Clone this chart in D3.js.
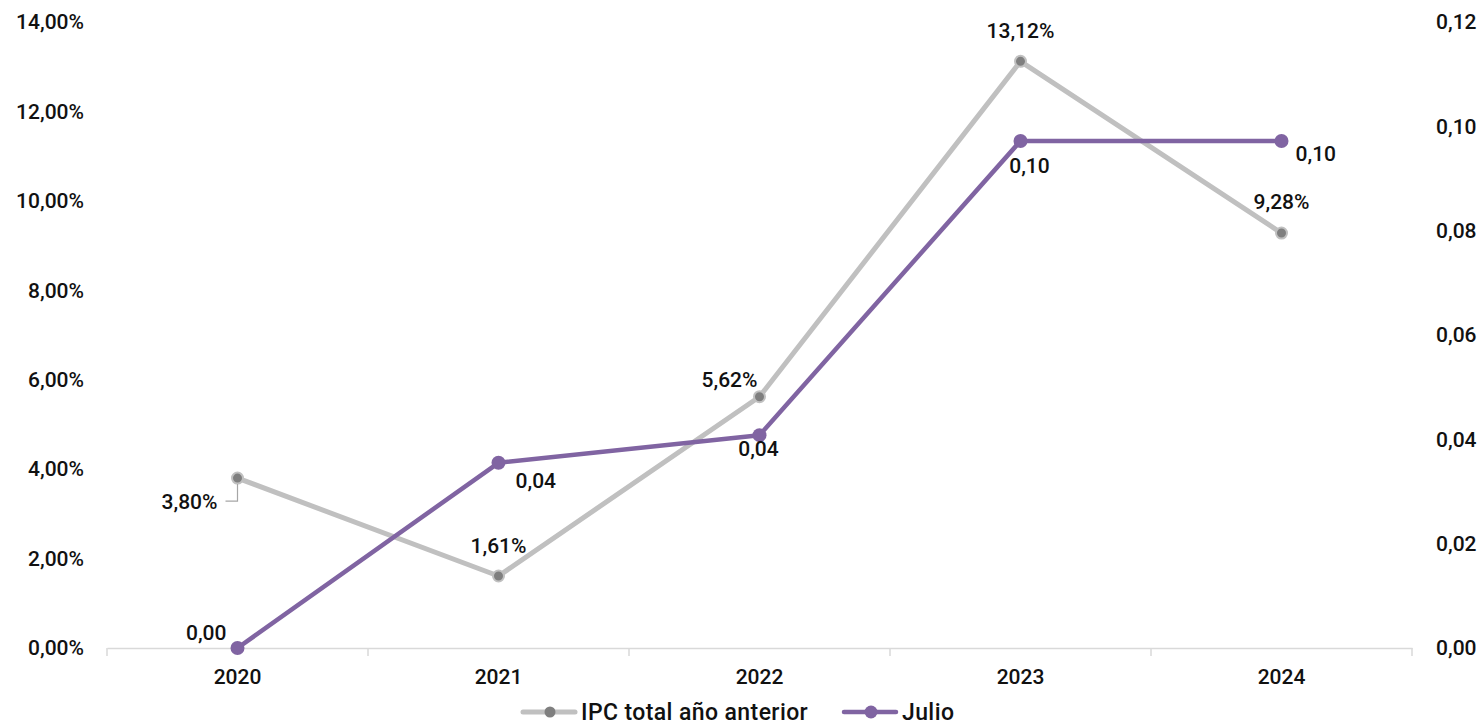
<!DOCTYPE html>
<html>
<head>
<meta charset="utf-8">
<script src="https://cdn.jsdelivr.net/npm/d3@7"></script>
<style>
  body { margin: 0; background: #fff; }
  text { font-family: Roboto, "DejaVu Sans Condensed", sans-serif; fill: #111; }
</style>
</head>
<body>
<div id="chart"></div>
<script>
// Chart data
const years = ["2020", "2021", "2022", "2023", "2024"];
const ipcValues = [3.80, 1.61, 5.62, 13.12, 9.28];
const julioValues = [0.0, 0.0355, 0.0408, 0.0972, 0.0972];
const leftTicks = [0, 2, 4, 6, 8, 10, 12, 14];
const rightTicks = [0, 0.02, 0.04, 0.06, 0.08, 0.10, 0.12];

// Label offsets relative to each point [dx, dy, anchor]
const ipcLabelPos = [[-20, 31, "end"], [0, -23, "middle"], [-2, -10, "end"], [0, -23, "middle"], [0, -24, "middle"]];
const julioLabelPos = [[-11, -8, "end"], [17, 25, "start"], [-1, 21, "middle"], [9, 32, "middle"], [14, 20, "start"]];

const W = 1484, H = 725;
const FS = 21;

const svg = d3.select("#chart").append("svg")
    .attr("width", W)
    .attr("height", H);

const x = d3.scaleBand().domain(years).range([107, 1412]);
const yL = d3.scaleLinear().domain([0, 14]).range([648, 22]);
const yR = d3.scaleLinear().domain([0, 0.12]).range([648, 22]);

const fmt2 = v => d3.format(".2f")(v).replace(".", ",");
const cx = d => x(d) + x.bandwidth() / 2;

/* Axes */
const xAxis = svg.append("g")
    .attr("transform", "translate(0,648)")
    .call(d3.axisBottom(x).tickSizeInner(0).tickSizeOuter(0).tickPadding(21));
xAxis.select(".domain").attr("stroke", "#d9d9d9").attr("stroke-width", 1.5);
xAxis.selectAll("text").attr("font-size", FS).attr("font-weight", 500);

// category separators
svg.append("g").selectAll("line")
    .data(d3.range(years.length + 1))
    .enter().append("line")
    .attr("x1", i => 107 + i * x.step())
    .attr("x2", i => 107 + i * x.step())
    .attr("y1", 648).attr("y2", 656)
    .attr("stroke", "#d9d9d9").attr("stroke-width", 1.5);

const yAxisL = svg.append("g")
    .attr("transform", "translate(84,0)")
    .call(d3.axisLeft(yL).tickValues(leftTicks).tickSize(0).tickPadding(0)
        .tickFormat(d => fmt2(d) + "%"));
yAxisL.select(".domain").remove();
yAxisL.selectAll("text").attr("font-size", FS).attr("font-weight", 500);

const yAxisR = svg.append("g")
    .attr("transform", "translate(1436,0)")
    .call(d3.axisRight(yR).tickValues(rightTicks).tickSize(0).tickPadding(0)
        .tickFormat(fmt2));
yAxisR.select(".domain").remove();
yAxisR.selectAll("text").attr("font-size", FS).attr("font-weight", 500);

/* Lines */
const ipcLine = d3.line().x((d, i) => cx(years[i])).y(d => yL(d));
const julioLine = d3.line().x((d, i) => cx(years[i])).y(d => yR(d));

svg.append("path")
    .datum(ipcValues)
    .attr("d", ipcLine)
    .attr("fill", "none")
    .attr("stroke", "#c0c0c0")
    .attr("stroke-width", 5)
    .attr("stroke-linejoin", "round");

svg.append("g").selectAll("circle")
    .data(ipcValues)
    .enter().append("circle")
    .attr("cx", (d, i) => cx(years[i]))
    .attr("cy", d => yL(d))
    .attr("r", 5.5)
    .attr("fill", "#7f7f7f")
    .attr("stroke", "#c0c0c0")
    .attr("stroke-width", 2);

svg.append("path")
    .datum(julioValues)
    .attr("d", julioLine)
    .attr("fill", "none")
    .attr("stroke", "#8064a2")
    .attr("stroke-width", 4.5)
    .attr("stroke-linejoin", "round");

svg.append("g").selectAll("circle")
    .data(julioValues)
    .enter().append("circle")
    .attr("cx", (d, i) => cx(years[i]))
    .attr("cy", d => yR(d))
    .attr("r", 7)
    .attr("fill", "#8064a2");

/* Leader line for 3,80% */
const p0x = cx(years[0]), p0y = yL(ipcValues[0]);
svg.append("path")
    .attr("d", `M${p0x},${p0y + 6} V${p0y + 23} H${p0x - 12}`)
    .attr("fill", "none")
    .attr("stroke", "#a6a6a6")
    .attr("stroke-width", 1.2);

/* Data labels */
svg.append("g").selectAll("text")
    .data(ipcValues)
    .enter().append("text")
    .attr("x", (d, i) => cx(years[i]) + ipcLabelPos[i][0])
    .attr("y", (d, i) => yL(d) + ipcLabelPos[i][1])
    .attr("text-anchor", (d, i) => ipcLabelPos[i][2])
    .attr("font-size", FS).attr("font-weight", 500)
    .text(d => fmt2(d) + "%");

svg.append("g").selectAll("text")
    .data(julioValues)
    .enter().append("text")
    .attr("x", (d, i) => cx(years[i]) + julioLabelPos[i][0])
    .attr("y", (d, i) => yR(d) + julioLabelPos[i][1])
    .attr("text-anchor", (d, i) => julioLabelPos[i][2])
    .attr("font-size", FS).attr("font-weight", 500)
    .text(d => fmt2(d));

/* Legend */
const legend = svg.append("g").attr("transform", "translate(0,712)");
const legendItems = [
    { name: "IPC total año anterior", x: 523, color: "#c0c0c0", dot: "#7f7f7f", w: 5, r: 5.5 },
    { name: "Julio", x: 844, color: "#8064a2", dot: "#8064a2", w: 4.5, r: 6.5 }
];
legendItems.forEach(it => {
    legend.append("line")
        .attr("x1", it.x).attr("x2", it.x + 52)
        .attr("y1", 0).attr("y2", 0)
        .attr("stroke", it.color).attr("stroke-width", it.w)
        .attr("stroke-linecap", "round");
    legend.append("circle")
        .attr("cx", it.x + 27).attr("cy", 0).attr("r", it.r)
        .attr("fill", it.dot);
    legend.append("text")
        .attr("x", it.x + 58).attr("y", 8)
        .attr("font-size", 23).attr("font-weight", 500)
        .attr("letter-spacing", 0.4)
        .text(it.name);
});
</script>
</body>
</html>
